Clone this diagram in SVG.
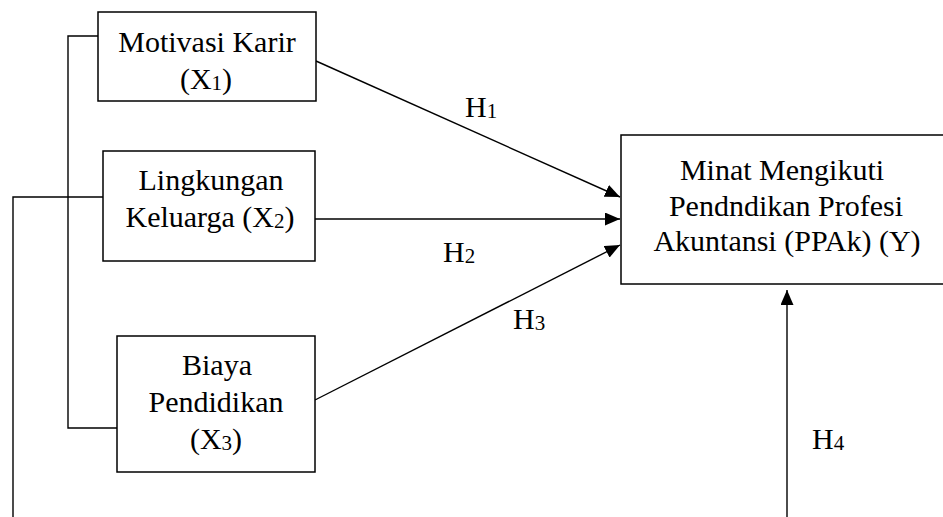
<svg xmlns="http://www.w3.org/2000/svg" width="943" height="517" viewBox="0 0 943 517">
<style>
.box{fill:#fff;stroke:#000;stroke-width:1.5}
.ln{fill:none;stroke:#000;stroke-width:1.4}
text{font-family:"Liberation Serif","Times New Roman",serif;font-size:30px;fill:#000}
.c{text-anchor:middle}
.sub{font-size:21px}
</style>
<defs>
<marker id="ah" markerWidth="15" markerHeight="13" refX="15" refY="6.5" orient="auto" markerUnits="userSpaceOnUse">
<path d="M0,0 L15,6.5 L0,13 Z" fill="#000"/>
</marker>
</defs>
<rect width="943" height="517" fill="#fff"/>
<g id="connectors">
<polyline class="ln" points="98,36 68,36 68,428 117,428"/>
<polyline class="ln" points="103,197 13,197 13,517"/>
<line class="ln" x1="316" y1="61" x2="620" y2="197" marker-end="url(#ah)"/>
<line class="ln" x1="315" y1="219" x2="620" y2="219" marker-end="url(#ah)"/>
<line class="ln" x1="315" y1="400" x2="620" y2="245" marker-end="url(#ah)"/>
<line class="ln" x1="787" y1="517" x2="787" y2="290" marker-end="url(#ah)"/>
<text x="465" y="117">H<tspan class="sub" dy="1">1</tspan></text>
<text x="443" y="262">H<tspan class="sub" dy="1">2</tspan></text>
<text x="513" y="329">H<tspan class="sub" dy="1">3</tspan></text>
<text x="812" y="449">H<tspan class="sub" dy="1">4</tspan></text>
</g>
<g id="x1">
<rect class="box" x="98" y="12" width="218" height="89"/>
<text class="c" x="207" y="52">Motivasi Karir</text>
<text class="c" x="206" y="89">(X<tspan class="sub" dy="1">1</tspan><tspan dy="-1">)</tspan></text>
</g>
<g id="x2">
<rect class="box" x="103" y="151" width="212" height="110"/>
<text class="c" x="211" y="190">Lingkungan</text>
<text class="c" x="210" y="227">Keluarga (X<tspan class="sub" dy="1">2</tspan><tspan dy="-1">)</tspan></text>
</g>
<g id="x3">
<rect class="box" x="117" y="336" width="198" height="136"/>
<text class="c" x="217" y="375">Biaya</text>
<text class="c" x="216" y="412">Pendidikan</text>
<text class="c" x="216" y="449">(X<tspan class="sub" dy="1">3</tspan><tspan dy="-1">)</tspan></text>
</g>
<g id="y">
<rect class="box" x="621" y="135" width="330" height="149"/>
<text class="c" x="782" y="180">Minat Mengikuti</text>
<text class="c" x="786" y="216">Pendndikan Profesi</text>
<text class="c" x="787" y="251">Akuntansi (PPAk) (Y)</text>
</g>
</svg>
